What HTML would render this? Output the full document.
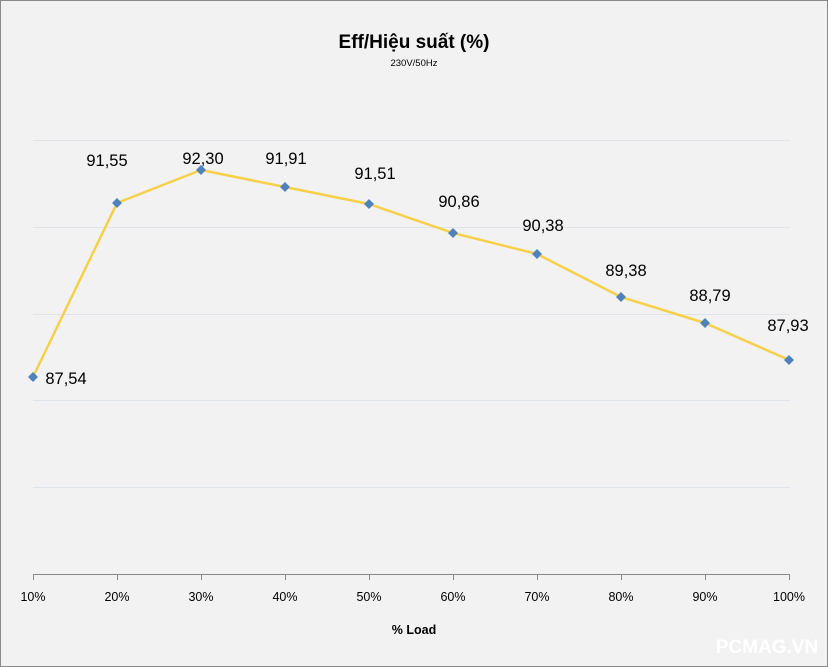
<!DOCTYPE html>
<html><head><meta charset="utf-8"><style>
body{margin:0;background:#f2f2f2;}
svg{display:block;font-family:"Liberation Sans","DejaVu Sans",sans-serif;}
</style></head><body>
<svg width="828" height="667" viewBox="0 0 828 667">
<rect x="0.5" y="0.5" width="827" height="666" fill="#f2f2f2" stroke="#8a8a8a"/>
<text x="414" y="48" text-anchor="middle" font-size="19" font-weight="bold" fill="#000">Eff/Hiệu suất (%)</text>
<text x="414" y="66" text-anchor="middle" font-size="9.5" fill="#000">230V/50Hz</text>
<g stroke="#dfe3ea" stroke-width="1">
<line x1="33" x2="790" y1="140.5" y2="140.5"/>
<line x1="33" x2="790" y1="227.5" y2="227.5"/>
<line x1="33" x2="790" y1="314.5" y2="314.5"/>
<line x1="33" x2="790" y1="400.5" y2="400.5"/>
<line x1="33" x2="790" y1="487.5" y2="487.5"/>
</g>
<g stroke="#888" stroke-width="1">
<line x1="33" x2="790" y1="574.5" y2="574.5"/>
<line x1="33.5" x2="33.5" y1="574" y2="580"/>
<line x1="117.5" x2="117.5" y1="574" y2="580"/>
<line x1="201.5" x2="201.5" y1="574" y2="580"/>
<line x1="285.5" x2="285.5" y1="574" y2="580"/>
<line x1="369.5" x2="369.5" y1="574" y2="580"/>
<line x1="453.5" x2="453.5" y1="574" y2="580"/>
<line x1="537.5" x2="537.5" y1="574" y2="580"/>
<line x1="621.5" x2="621.5" y1="574" y2="580"/>
<line x1="705.5" x2="705.5" y1="574" y2="580"/>
<line x1="789.5" x2="789.5" y1="574" y2="580"/>
</g>
<g font-size="12.5" text-anchor="middle" fill="#000">
<text x="33" y="601">10%</text><text x="117" y="601">20%</text><text x="201" y="601">30%</text>
<text x="285" y="601">40%</text><text x="369" y="601">50%</text><text x="453" y="601">60%</text>
<text x="537" y="601">70%</text><text x="621" y="601">80%</text><text x="705" y="601">90%</text>
<text x="789" y="601">100%</text>
</g>
<text x="414" y="634" text-anchor="middle" font-size="12.5" font-weight="bold">% Load</text>
<polyline fill="none" stroke="#f7d04a" stroke-width="2.5" stroke-linejoin="round"
points="33,377 117,203 201,170 285,187 369,204 453,233 537,254 621,297 705,323 789,360"/>
<g fill="#4f81bd">
<path d="M33,372l5,5l-5,5l-5,-5z"/><path d="M117,198l5,5l-5,5l-5,-5z"/>
<path d="M201,165l5,5l-5,5l-5,-5z"/><path d="M285,182l5,5l-5,5l-5,-5z"/>
<path d="M369,199l5,5l-5,5l-5,-5z"/><path d="M453,228l5,5l-5,5l-5,-5z"/>
<path d="M537,249l5,5l-5,5l-5,-5z"/><path d="M621,292l5,5l-5,5l-5,-5z"/>
<path d="M705,318l5,5l-5,5l-5,-5z"/><path d="M789,355l5,5l-5,5l-5,-5z"/>
</g>
<g font-size="16.5" fill="#000" text-anchor="middle">
<text x="66" y="384">87,54</text>
<text x="107" y="166">91,55</text>
<text x="203" y="164">92,30</text>
<text x="286" y="164">91,91</text>
<text x="375" y="179">91,51</text>
<text x="459" y="207">90,86</text>
<text x="543" y="231">90,38</text>
<text x="626" y="276">89,38</text>
<text x="710" y="301">88,79</text>
<text x="788" y="331">87,93</text>
</g>
<text x="767" y="653" text-anchor="middle" font-size="19" font-weight="bold" fill="#ffffff">PCMAG.VN</text>
</svg>
</body></html>
